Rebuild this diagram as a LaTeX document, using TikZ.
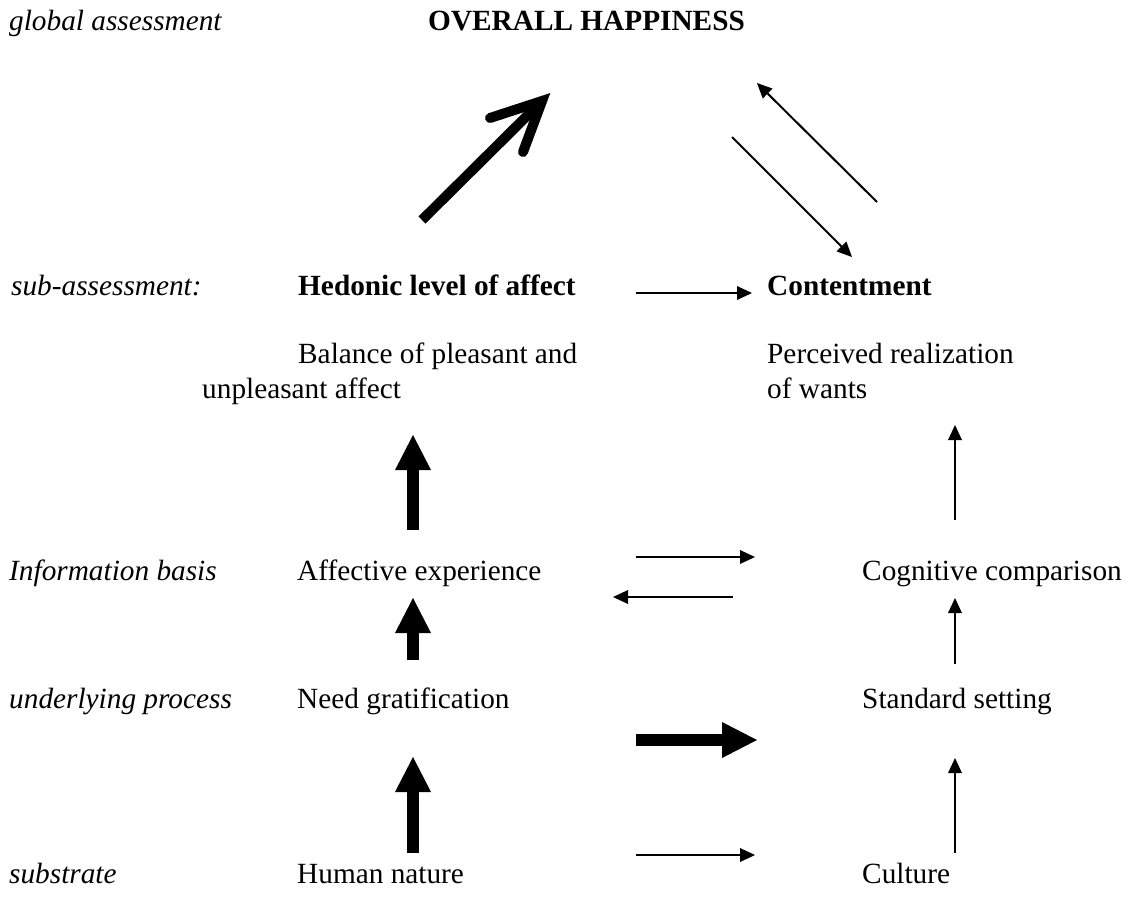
\documentclass[tikz,border=0pt]{standalone}
\usepackage{fontspec}
\setmainfont{Liberation Serif}
\usetikzlibrary{arrows.meta}
\begin{document}
\begin{tikzpicture}[x=1pt,y=-1pt,
  lbl/.style={anchor=base west, inner sep=0pt, font=\fontsize{29.3}{34}\selectfont},
  cat/.style={anchor=base west, inner sep=0pt, font=\fontsize{29.3}{34}\selectfont\itshape},
  hdr/.style={anchor=base west, inner sep=0pt, font=\fontsize{29.3}{34}\selectfont\bfseries},
  thinarr/.style={line width=2pt, -{Triangle[length=15pt,width=14pt,line width=0pt]}},
  blockarr/.style={line width=12pt, -{Triangle[length=35pt,width=36pt,line width=0pt]}},
  bigline/.style={line width=10pt}
]
\useasboundingbox (0,0) rectangle (1130,898);
% texts
\node[cat] (ga) at (9,30) {global assessment};
\node[hdr] (oh) at (428,30) {OVERALL HAPPINESS};
\node[cat] (sa) at (11,295) {sub-assessment:};
\node[hdr] (hed) at (298,295) {Hedonic level of affect};
\node[hdr] (con) at (767,295) {Contentment};
\node[lbl] (bal1) at (298,363) {Balance of pleasant and};
\node[lbl] (bal2) at (202,398) {unpleasant affect};
\node[lbl] (per1) at (767,363) {Perceived realization};
\node[lbl] (per2) at (767,398) {of wants};
\node[cat] (ib) at (9,580) {Information basis};
\node[lbl] (aff) at (297,580) {Affective experience};
\node[lbl] (cog) at (862,580) {Cognitive comparison};
\node[cat] (upr) at (9,708) {underlying process};
\node[lbl] (need) at (297,708) {Need gratification};
\node[lbl] (std) at (862,708) {Standard setting};
\node[cat] (sbs) at (9,883) {substrate};
\node[lbl] (hum) at (297,883) {Human nature};
\node[lbl] (cul) at (862,883) {Culture};
% arrow end points
\coordinate (d0) at (422,220);
\coordinate (d1) at (538,105);
\coordinate (dtip) at (542,101);
\coordinate (dw1) at (490,118);
\coordinate (dw2) at (523,152);
\coordinate (u0) at (877,202);
\coordinate (u1) at (757,83);
\coordinate (v0) at (732,137);
\coordinate (v1) at (852,257);
\coordinate (h0) at (636,293);
\coordinate (h1) at (752,293);
\coordinate (a0) at (636,557);
\coordinate (a1) at (755,557);
\coordinate (b0) at (733,597);
\coordinate (b1) at (613,597);
\coordinate (n0) at (636,740);
\coordinate (n1) at (757,740);
\coordinate (m0) at (636,855);
\coordinate (m1) at (755,855);
\coordinate (k1a) at (413,530);
\coordinate (k1b) at (413,435);
\coordinate (k2a) at (413,660);
\coordinate (k2b) at (413,598);
\coordinate (k3a) at (413,853);
\coordinate (k3b) at (413,757);
\coordinate (t1a) at (955,520);
\coordinate (t1b) at (955,425);
\coordinate (t2a) at (955,664);
\coordinate (t2b) at (955,598);
\coordinate (t3a) at (955,853);
\coordinate (t3b) at (955,758);
% big diagonal arrow
\draw[bigline] (d0) -- (d1);
\draw[bigline, line cap=round, line join=miter] (dw1) -- (dtip) -- (dw2);
% thin diagonal arrows
\draw[thinarr] (u0) -- (u1);
\draw[thinarr] (v0) -- (v1);
% horizontal arrows
\draw[thinarr] (h0) -- (h1);
\draw[thinarr] (a0) -- (a1);
\draw[thinarr] (b0) -- (b1);
\draw[blockarr] (n0) -- (n1);
\draw[thinarr] (m0) -- (m1);
% vertical arrows
\draw[blockarr] (k1a) -- (k1b);
\draw[blockarr] (k2a) -- (k2b);
\draw[blockarr] (k3a) -- (k3b);
\draw[thinarr] (t1a) -- (t1b);
\draw[thinarr] (t2a) -- (t2b);
\draw[thinarr] (t3a) -- (t3b);
\end{tikzpicture}
\end{document}
